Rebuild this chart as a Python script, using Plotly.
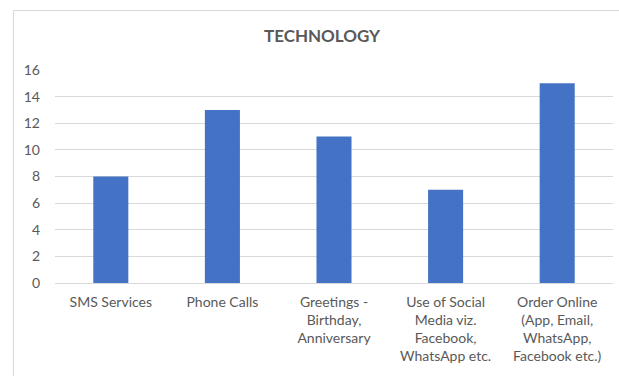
import plotly.graph_objects as go

# Survey categories and counts
categories = [
    "SMS Services",
    "Phone Calls",
    "Greetings -<br>Birthday,<br>Anniversary",
    "Use of Social<br>Media viz.<br>Facebook,<br>WhatsApp etc.",
    "Order Online<br>(App, Email,<br>WhatsApp,<br>Facebook etc.)",
]
counts = [8, 13, 11, 7, 15]
y_ticks = [0, 2, 4, 6, 8, 10, 12, 14, 16]

FONT = "Lato, 'Open Sans', sans-serif"
TEXT_GRAY = "#595959"

fig = go.Figure(
    go.Bar(
        x=categories,
        y=counts,
        marker=dict(color="#4472c4", line=dict(width=0)),
    )
)

fig.update_layout(
    width=619,
    height=376,
    margin=dict(l=55, r=6, t=70, b=93),
    paper_bgcolor="white",
    plot_bgcolor="white",
    bargap=0.686,
    showlegend=False,
    font=dict(family=FONT, size=14, color=TEXT_GRAY),
    title=dict(
        text="<b>TECHNOLOGY</b>",
        x=322 / 619,
        xref="container",
        xanchor="center",
        y=1 - 36 / 376,
        yanchor="middle",
        font=dict(family=FONT, size=17, color=TEXT_GRAY),
    ),
    shapes=[
        # chart-area frame (left and top edges)
        dict(type="line", xref="paper", yref="paper",
             x0=(13.5 - 55) / 558, x1=(13.5 - 55) / 558,
             y0=(10.5 - 70) / -213 + 1, y1=-2,
             line=dict(color="#d9d9d9", width=1)),
        dict(type="line", xref="paper", yref="paper",
             x0=(13.5 - 55) / 558, x1=2,
             y0=(10.5 - 70) / -213 + 1, y1=(10.5 - 70) / -213 + 1,
             line=dict(color="#d9d9d9", width=1)),
    ],
)

fig.update_xaxes(
    showgrid=False,
    showline=True,
    linecolor="#d9d9d9",
    linewidth=1,
    ticks="",
    ticklabelstandoff=6,
    tickfont=dict(family=FONT, size=14, color=TEXT_GRAY),
)
fig.update_yaxes(
    range=[0, 16],
    tickvals=y_ticks,
    showgrid=True,
    gridcolor="#d9d9d9",
    gridwidth=1,
    zeroline=False,
    showline=False,
    ticks="",
    ticklabelstandoff=14,
    tickfont=dict(family=FONT, size=14, color=TEXT_GRAY),
)

fig.write_html("out.html")
